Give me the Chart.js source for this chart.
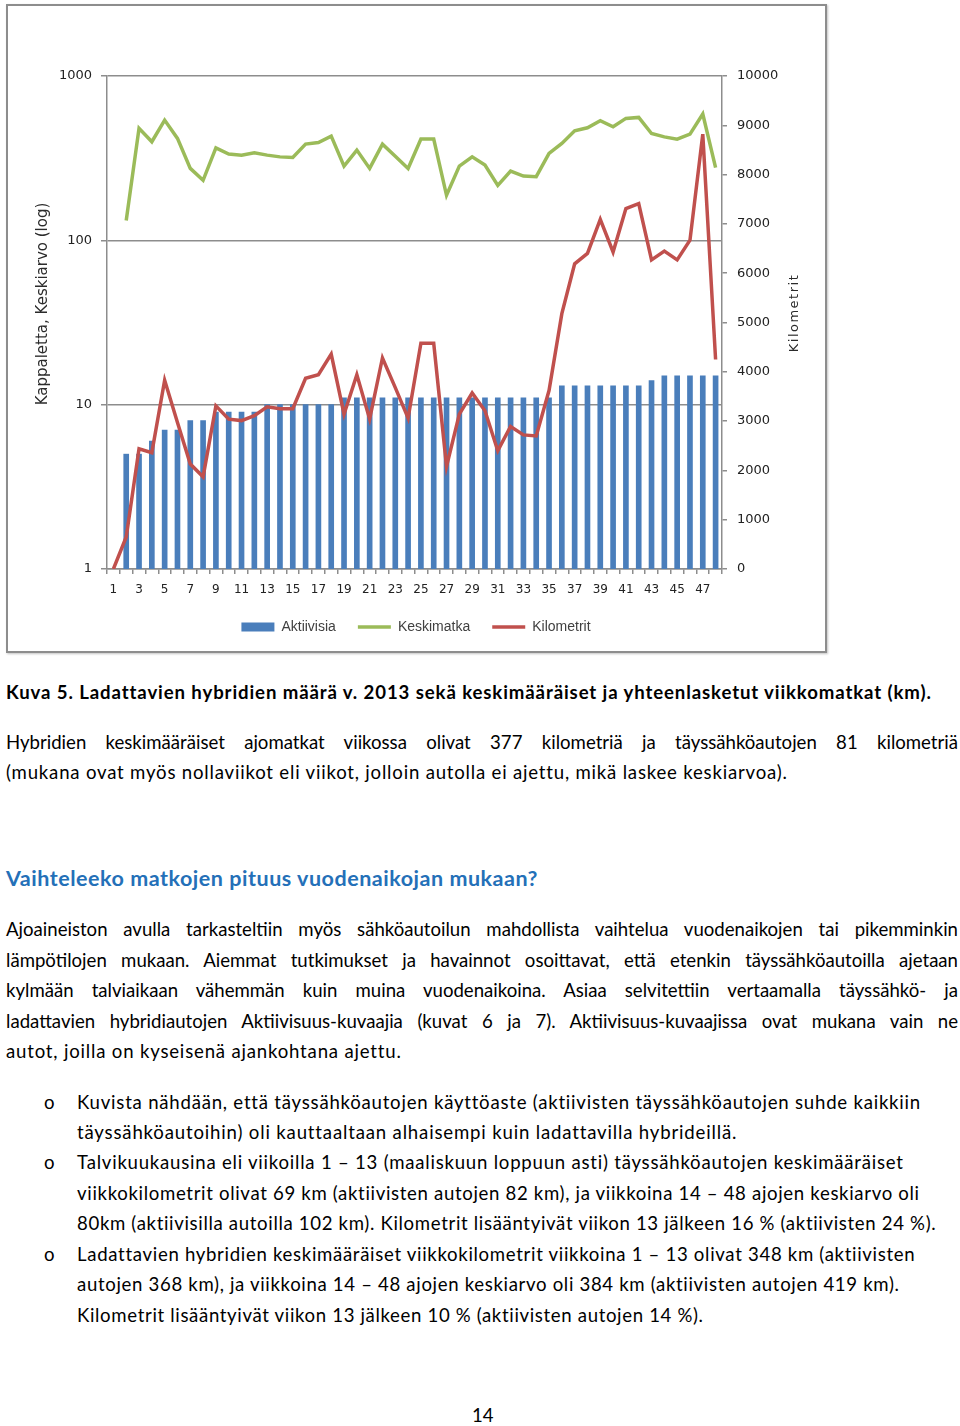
<!DOCTYPE html>
<html lang="fi">
<head>
<meta charset="utf-8">
<title>Kuva 5 – Ladattavien hybridien määrä</title>
<script src="https://cdn.jsdelivr.net/npm/chart.js@4.4.1/dist/chart.umd.min.js"></script>
<style>
  html, body { margin: 0; padding: 0; background: #fff; }
  body { position: relative; width: 960px; height: 1426px; overflow: hidden; font-family: Lato, 'Open Sans', sans-serif; color: #000; }

  #chart-box { position: absolute; left: 6px; top: 4px; width: 821px; height: 649px; box-sizing: border-box;
               border: 2px solid #8d8d8d; box-shadow: 1px 1px 2px #c4c4c4; pointer-events: none; }
  #kuva5 { position: absolute; left: 6px; top: 4px; }

  .ln { position: absolute; left: 6px; height: 30px; line-height: 30px; font-size: 18.6px; white-space: nowrap; }
  .just { width: 952px; text-align: justify; text-align-last: justify; white-space: normal; }
  .cap { font-weight: bold; }
  .head { font-size: 21.5px; font-weight: bold; color: #2470b8; }
  .bul { left: 77px; }
  .dot { left: 44px; }
  .page { left: 472px; }
</style>
</head>
<body>

<canvas id="kuva5" width="820" height="648"></canvas>
<div id="chart-box"></div>

<div class="ln cap fit" data-w="925" style="top:677px">Kuva 5. Ladattavien hybridien määrä v. 2013 sekä keskimääräiset ja yhteenlasketut viikkomatkat (km).</div>

<div class="ln just" style="top:727px">Hybridien keskimääräiset ajomatkat viikossa olivat 377 kilometriä ja täyssähköautojen 81 kilometriä</div>
<div class="ln fit" data-w="781" style="top:757px">(mukana ovat myös nollaviikot eli viikot, jolloin autolla ei ajettu, mikä laskee keskiarvoa).</div>

<div class="ln head fit" data-w="532" style="top:863px">Vaihteleeko matkojen pituus vuodenaikojan mukaan?</div>

<div class="ln just" style="top:914px">Ajoaineiston avulla tarkasteltiin myös sähköautoilun mahdollista vaihtelua vuodenaikojen tai pikemminkin</div>
<div class="ln just" style="top:945px">lämpötilojen mukaan. Aiemmat tutkimukset ja havainnot osoittavat, että etenkin täyssähköautoilla ajetaan</div>
<div class="ln just" style="top:975px">kylmään talviaikaan vähemmän kuin muina vuodenaikoina. Asiaa selvitettiin vertaamalla täyssähkö- ja</div>
<div class="ln just" style="top:1006px">ladattavien hybridiautojen Aktiivisuus-kuvaajia (kuvat 6 ja 7). Aktiivisuus-kuvaajissa ovat mukana vain ne</div>
<div class="ln fit" data-w="395" style="top:1036px">autot, joilla on kyseisenä ajankohtana ajettu.</div>

<div class="ln dot" style="top:1087px">o</div>
<div class="ln bul fit" data-w="843" style="top:1087px">Kuvista nähdään, että täyssähköautojen käyttöaste (aktiivisten täyssähköautojen suhde kaikkiin</div>
<div class="ln bul fit" data-w="659" style="top:1117px">täyssähköautoihin) oli kauttaaltaan alhaisempi kuin ladattavilla hybrideillä.</div>
<div class="ln dot" style="top:1147px">o</div>
<div class="ln bul fit" data-w="827" style="top:1147px">Talvikuukausina eli viikoilla 1 – 13 (maaliskuun loppuun asti) täyssähköautojen keskimääräiset</div>
<div class="ln bul fit" data-w="843" style="top:1178px">viikkokilometrit olivat 69 km (aktiivisten autojen 82 km), ja viikkoina 14 – 48 ajojen keskiarvo oli</div>
<div class="ln bul fit" data-w="860" style="top:1208px">80km (aktiivisilla autoilla 102 km). Kilometrit lisääntyivät viikon 13 jälkeen 16 % (aktiivisten 24 %).</div>
<div class="ln dot" style="top:1239px">o</div>
<div class="ln bul fit" data-w="838" style="top:1239px">Ladattavien hybridien keskimääräiset viikkokilometrit viikkoina 1 – 13 olivat 348 km (aktiivisten</div>
<div class="ln bul fit" data-w="823" style="top:1269px">autojen 368 km), ja viikkoina 14 – 48 ajojen keskiarvo oli 384 km (aktiivisten autojen 419 km).</div>
<div class="ln bul fit" data-w="627" style="top:1300px">Kilometrit lisääntyivät viikon 13 jälkeen 10 % (aktiivisten autojen 14 %).</div>

<div class="ln page" style="top:1400px">14</div>

<script>
// ─── Data ───
const weeks = ['1', '2', '3', '4', '5', '6', '7', '8', '9', '10', '11', '12', '13', '14', '15', '16',
  '17', '18', '19', '20', '21', '22', '23', '24', '25', '26', '27', '28', '29', '30', '31', '32',
  '33', '34', '35', '36', '37', '38', '39', '40', '41', '42', '43', '44', '45', '46', '47', '48'];

// active cars per week (left, log)
const aktiivisia = [null, 5, 5, 6, 7, 7, 8, 8, 9, 9, 9, 9, 10, 10, 10, 10,
  10, 10, 11, 11, 11, 11, 11, 11, 11, 11, 11, 11, 11, 11, 11, 11,
  11, 11, 11, 13, 13, 13, 13, 13, 13, 13, 14, 15, 15, 15, 15, 15];

// average km per active car (left, log)
const keskimatka = [null, 132, 480, 398, 539, 417, 274, 232, 365, 335, 330, 341, 330, 322, 319, 385,
  394, 431, 283, 354, 274, 385, 325, 274, 413, 413, 188, 283, 322, 287, 216, 264,
  246, 244, 338, 389, 464, 484, 534, 491, 552, 560, 447, 426, 413, 443, 587, 277];

// total km per week (right, linear)
const kilometrit = [0, 650, 2440, 2360, 3830, 2970, 2130, 1870, 3310, 3040, 3010, 3110, 3290, 3250, 3250, 3870,
  3940, 4360, 3140, 3940, 3040, 4280, 3680, 3060, 4580, 4580, 2080, 3140, 3570, 3210, 2400, 2890,
  2720, 2700, 3620, 5180, 6190, 6400, 7090, 6430, 7310, 7410, 6270, 6450, 6270, 6670, 8820, 4250];

const leftTicks = [1, 10, 100, 1000];
const leftTitle = 'Kappaletta, Keskiarvo (log)';
const rightTitle = 'Kilometrit';

// ─── Styling ───
const AXIS_GREY = '#8d8d8d';
const TICK_FONT = { family: "'DejaVu Sans'", size: 13 };

// axis titles, Excel style (both read bottom-to-top)
const axisTitles = {
  id: 'axisTitles',
  afterDraw(chart) {
    const { ctx, chartArea } = chart;
    const left = chart.scales.y;
    const right = chart.scales.yKm;
    ctx.save();
    ctx.fillStyle = '#2b2b2b';
    ctx.textAlign = 'center';
    ctx.textBaseline = 'middle';

    ctx.save();
    ctx.font = "15px 'DejaVu Sans'";
    ctx.translate(left.left + 37, chartArea.top + 228);
    ctx.rotate(-Math.PI / 2);
    ctx.fillText(leftTitle, 0, 0);
    ctx.restore();

    ctx.save();
    ctx.font = "13px 'DejaVu Sans'";
    ctx.letterSpacing = '1.5px';
    ctx.translate(right.right - 31, chartArea.top + 237);
    ctx.rotate(-Math.PI / 2);
    ctx.fillText(rightTitle, 0, 0);
    ctx.restore();

    ctx.restore();
  },
};

new Chart(document.getElementById('kuva5'), {
  type: 'bar',
  data: {
    labels: weeks,
    datasets: [
      {
        type: 'bar',
        label: 'Aktiivisia',
        data: aktiivisia,
        yAxisID: 'y',
        backgroundColor: '#4a7ebb',
        barThickness: 5,
        pointStyle: 'rect',
        order: 3,
      },
      {
        type: 'line',
        label: 'Keskimatka',
        data: keskimatka,
        yAxisID: 'y',
        borderColor: '#9bbb59',
        backgroundColor: '#9bbb59',
        borderWidth: 3.5,
        pointRadius: 0,
        pointStyle: 'line',
        tension: 0,
        order: 2,
      },
      {
        type: 'line',
        label: 'Kilometrit',
        data: kilometrit,
        yAxisID: 'yKm',
        borderColor: '#c0504d',
        backgroundColor: '#c0504d',
        borderWidth: 3.5,
        pointRadius: 0,
        pointStyle: 'line',
        tension: 0,
        order: 1,
      },
    ],
  },
  options: {
    responsive: false,
    devicePixelRatio: 1,
    animation: false,
    layout: { padding: { top: 72, left: 0, right: 0, bottom: 8 } },
    plugins: {
      tooltip: { enabled: false },
      legend: {
        position: 'bottom',
        labels: {
          usePointStyle: true,
          pointStyleWidth: 33,
          boxHeight: 9,
          padding: 22,
          color: '#404040',
          font: { family: "'Liberation Sans'", size: 14 },
          sort: (a, b) => a.datasetIndex - b.datasetIndex,
        },
      },
    },
    scales: {
      x: {
        offset: true,
        afterFit: s => { s.height = 29; },
        grid: { offset: true, drawOnChartArea: false, color: AXIS_GREY, lineWidth: 1.5, tickLength: 5 },
        border: { color: AXIS_GREY, width: 1.5 },
        ticks: {
          autoSkip: false,
          maxRotation: 0,
          padding: 9,
          color: '#222',
          font: { family: "'DejaVu Sans'", size: 12 },
          callback: (v, i) => (i % 2 === 0 ? weeks[i] : ''),
        },
      },
      y: {
        type: 'logarithmic',
        position: 'left',
        min: 1,
        max: 1000,
        afterBuildTicks: s => { s.ticks = leftTicks.map(v => ({ value: v })); },
        afterFit: s => { s.width = 101; },
        grid: { color: AXIS_GREY, lineWidth: 1.5, tickLength: 6 },
        border: { color: AXIS_GREY, width: 1.5 },
        ticks: { padding: 9, color: '#222', font: TICK_FONT, callback: v => String(v) },
      },
      yKm: {
        type: 'linear',
        position: 'right',
        min: 0,
        max: 10000,
        afterFit: s => { s.width = 104; },
        grid: { drawOnChartArea: false, color: AXIS_GREY, lineWidth: 1.5, tickLength: 5 },
        border: { color: AXIS_GREY, width: 1.5 },
        ticks: { stepSize: 1000, padding: 10, color: '#222', font: TICK_FONT, callback: v => String(v) },
      },
    },
  },
  plugins: [axisTitles],
});

// ─── Stretch ragged lines to the widths they have on the page ───
document.querySelectorAll('.fit').forEach(el => {
  const target = Number(el.dataset.w);
  const natural = el.getBoundingClientRect().width;
  const n = el.textContent.length;
  el.style.letterSpacing = ((target - natural) / n).toFixed(3) + 'px';
});
</script>
</body>
</html>
